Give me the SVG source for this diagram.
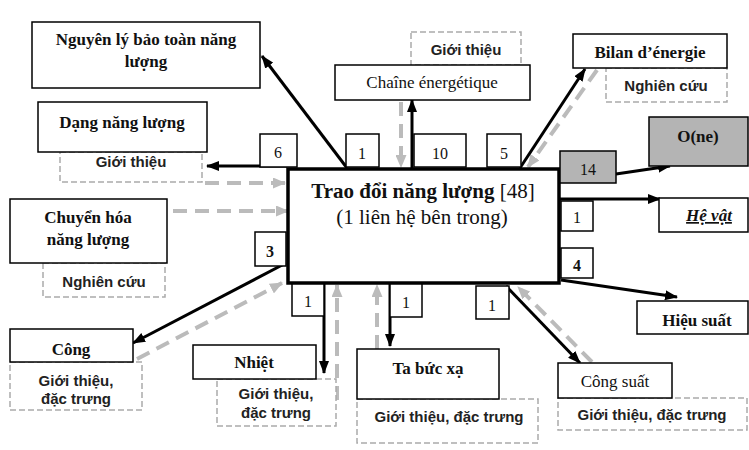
<svg xmlns="http://www.w3.org/2000/svg" width="749" height="450" viewBox="0 0 749 450">
<defs>
<style>
.bx{fill:#fff;stroke:#000;stroke-width:1.5}
.gx{fill:#b4b4b4;stroke:#000;stroke-width:1.5}
.db{fill:#fff;stroke:#aaa;stroke-width:1.5;stroke-dasharray:6 3}
.sb{font-family:"Liberation Serif",serif;font-weight:bold;font-size:17px;text-anchor:middle;fill:#111}
.sn{font-family:"Liberation Serif",serif;font-size:17px;text-anchor:middle;fill:#111}
.ss{font-family:"Liberation Sans",sans-serif;font-weight:bold;font-size:15px;text-anchor:middle;fill:#222}
.num{font-family:"Liberation Serif",serif;font-size:16px;text-anchor:middle;fill:#111}
.bk{stroke:#000;stroke-width:3;fill:none;marker-end:url(#ab)}
.gr{stroke:#bbb;stroke-width:4;fill:none;stroke-dasharray:14 8;marker-end:url(#ag)}
</style>
<marker id="ab" markerWidth="13" markerHeight="10" refX="12" refY="5" orient="auto" markerUnits="userSpaceOnUse"><path d="M0,0 L13,5 L0,10 Z" fill="#000"/></marker>
<marker id="ag" markerWidth="13" markerHeight="11" refX="12" refY="5.5" orient="auto" markerUnits="userSpaceOnUse"><path d="M0,0 L13,5.5 L0,11 Z" fill="#bbb"/></marker>
</defs>
<rect width="749" height="450" fill="#fff"/>
<g id="connectors">
<line class="gr" x1="205" y1="183" x2="285" y2="183"/>
<line class="gr" x1="173" y1="211" x2="288" y2="211"/>
<line class="gr" x1="137" y1="359" x2="282" y2="283"/>
<line class="gr" x1="337" y1="400" x2="337" y2="285"/>
<line class="gr" x1="377" y1="349" x2="377" y2="285"/>
<line class="gr" x1="592" y1="362" x2="518" y2="287"/>
<line class="gr" x1="597" y1="70" x2="528" y2="167"/>
<line class="gr" x1="401" y1="102" x2="401" y2="167"/>
<line class="bk" x1="347" y1="168" x2="262" y2="56"/>
<line class="bk" x1="287" y1="166" x2="207" y2="166"/>
<line class="bk" x1="412" y1="168" x2="412" y2="100"/>
<line class="bk" x1="520" y1="168" x2="585" y2="69"/>
<line class="bk" x1="616" y1="174" x2="670" y2="166"/>
<line class="bk" x1="559" y1="199" x2="660" y2="199"/>
<line class="bk" x1="561" y1="280" x2="677" y2="297"/>
<line class="bk" x1="506" y1="286" x2="580" y2="363"/>
<line class="bk" x1="390" y1="283" x2="390" y2="346"/>
<line class="bk" x1="324" y1="277" x2="324" y2="373"/>
<line class="bk" x1="286" y1="263" x2="133" y2="343"/>
</g>
<g id="center">
<rect x="288" y="169" width="271" height="114" fill="#fff" stroke="#000" stroke-width="3.5"/>
<text x="423" y="198" style="font-family:'Liberation Serif',serif;font-size:21px;text-anchor:middle;fill:#111"><tspan font-weight="bold">Trao đổi năng lượng</tspan> [48]</text>
<text x="422" y="224" style="font-family:'Liberation Serif',serif;font-size:21px;text-anchor:middle;fill:#111">(1 liên hệ bên trong)</text>
</g>
<g id="n-nguyenly">
<rect class="bx" x="32" y="22" width="228" height="66"/>
<text class="sb" x="146" y="45">Nguyên lý bảo toàn năng</text>
<text class="sb" x="146" y="67">lượng</text>
</g>
<g id="n-dang">
<rect class="db" x="60" y="152" width="142" height="30"/>
<text class="ss" x="131" y="167">Giới thiệu</text>
<rect class="bx" x="38" y="102" width="169" height="50"/>
<text class="sb" x="122" y="128">Dạng năng lượng</text>
</g>
<g id="n-chuyenhoa">
<rect class="db" x="43" y="263" width="122" height="34"/>
<text class="ss" x="104" y="287">Nghiên cứu</text>
<rect class="bx" x="10" y="199" width="157" height="64"/>
<text class="sb" x="88" y="223">Chuyển hóa</text>
<text class="sb" x="88" y="245">năng lượng</text>
</g>
<g id="n-cong">
<rect class="db" x="10" y="362" width="132" height="48"/>
<text class="ss" x="76" y="386">Giới thiệu,</text>
<text class="ss" x="76" y="404">đặc trưng</text>
<rect class="bx" x="10" y="329" width="123" height="33"/>
<text class="sb" x="71" y="355">Công</text>
</g>
<g id="n-nhiet">
<rect class="db" x="217" y="379" width="119" height="47"/>
<text class="ss" x="276" y="399">Giới thiệu,</text>
<text class="ss" x="276" y="418">đặc trưng</text>
<rect class="bx" x="193" y="345" width="123" height="34"/>
<text class="sb" x="254" y="368">Nhiệt</text>
</g>
<g id="n-tabucxa">
<rect class="db" x="357" y="399" width="181" height="44"/>
<text class="ss" x="449" y="422">Giới thiệu, đặc trưng</text>
<rect class="bx" x="357" y="349" width="142" height="50"/>
<text class="sb" x="428" y="374">Ta bức xạ</text>
</g>
<g id="n-congsuat">
<rect class="db" x="558" y="398" width="189" height="32"/>
<text class="ss" x="652" y="420">Giới thiệu, đặc trưng</text>
<rect class="bx" x="558" y="363" width="114" height="35"/>
<text class="sn" x="615" y="387">Công suất</text>
</g>
<g id="n-hieusuat">
<rect class="bx" x="637" y="301" width="111" height="33"/>
<text class="sb" x="697" y="326">Hiệu suất</text>
</g>
<g id="n-hevat">
<rect class="bx" x="659" y="198" width="89" height="34"/>
<text class="sb" x="709" y="221" font-style="italic" text-decoration="underline">Hệ vật</text>
</g>
<g id="n-one">
<rect class="gx" x="649" y="117" width="99" height="49"/>
<text class="sb" x="698" y="142">O(ne)</text>
</g>
<g id="n-bilan">
<rect class="db" x="606" y="68" width="121" height="34"/>
<text class="ss" x="666" y="91">Nghiên cứu</text>
<rect class="bx" x="573" y="34" width="154" height="34"/>
<text class="sb" x="650" y="58">Bilan d’énergie</text>
</g>
<g id="n-chaine">
<rect class="db" x="411" y="32" width="110" height="33"/>
<text class="ss" x="466" y="55">Giới thiệu</text>
<rect class="bx" x="335" y="65" width="195" height="35"/>
<text class="sn" x="432" y="88">Chaîne énergétique</text>
</g>
<g id="counts">
<rect class="bx" x="260" y="134" width="37" height="33"/><text class="num" x="278" y="158">6</text>
<rect class="bx" x="346" y="134" width="33" height="33"/><text class="num" x="362" y="159">1</text>
<rect class="bx" x="414" y="134" width="52" height="33"/><text class="num" x="440" y="159">10</text>
<rect class="bx" x="487" y="134" width="34" height="33"/><text class="num" x="504" y="159">5</text>
<rect class="gx" x="560" y="151" width="56" height="32"/><text class="num" x="588" y="175">14</text>
<rect class="bx" x="561" y="201" width="32" height="30"/><text class="num" x="577" y="223">1</text>
<rect class="bx" x="561" y="248" width="32" height="30"/><text class="num" x="577" y="271" font-weight="bold">4</text>
<rect class="bx" x="255" y="232" width="31" height="34"/><text class="num" x="270" y="257" font-weight="bold">3</text>
<rect class="bx" x="292" y="284" width="32" height="32"/><text class="num" x="308" y="307">1</text>
<rect class="bx" x="390" y="284" width="32" height="33"/><text class="num" x="406" y="308">1</text>
<rect class="bx" x="476" y="286" width="33" height="33"/><text class="num" x="492" y="311">1</text>
</g>
</svg>
